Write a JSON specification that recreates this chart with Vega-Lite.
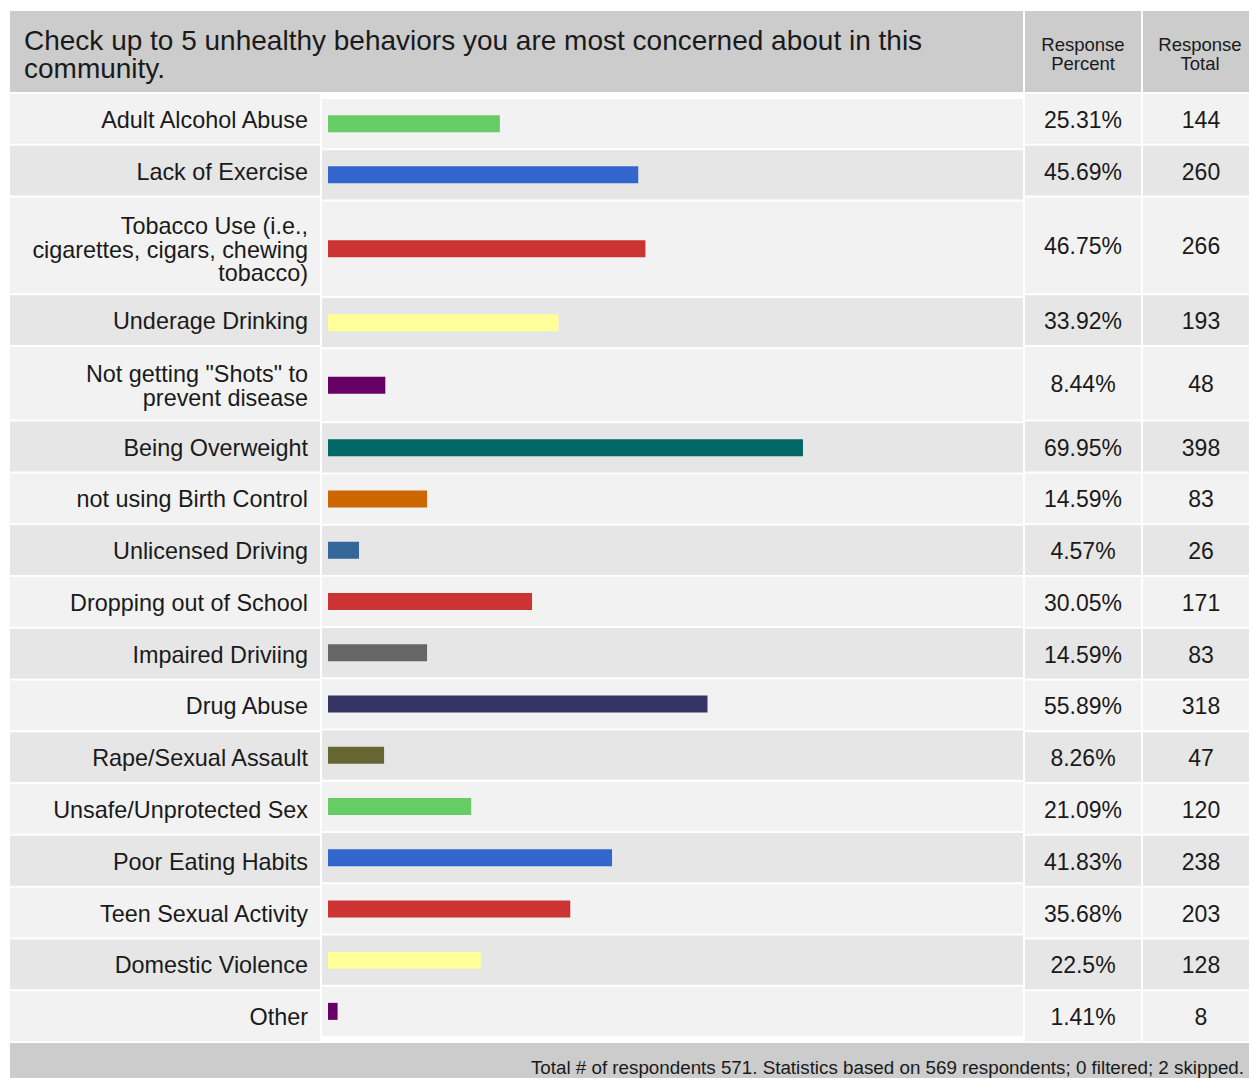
{
  "$schema": "https://vega.github.io/schema/vega-lite/v6.json",
  "padding": {"left": 10, "top": 11, "right": 0, "bottom": 0},
  "background": "white",
  "spacing": 2,
  "config": {"view": {"stroke": null}, "text": {"font": "Liberation Sans", "color": "#1a1a1a"}},
  "datasets": {
    "rows": [
      {"order": 1, "label": "Adult Alcohol Abuse", "pct": 25.31, "total": 144},
      {"order": 2, "label": "Lack of Exercise", "pct": 45.69, "total": 260},
      {"order": 3, "label": "Tobacco Use (i.e.,\ncigarettes, cigars, chewing\ntobacco)", "pct": 46.75, "total": 266},
      {"order": 4, "label": "Underage Drinking", "pct": 33.92, "total": 193},
      {"order": 5, "label": "Not getting \"Shots\" to\nprevent disease", "pct": 8.44, "total": 48},
      {"order": 6, "label": "Being Overweight", "pct": 69.95, "total": 398},
      {"order": 7, "label": "not using Birth Control", "pct": 14.59, "total": 83},
      {"order": 8, "label": "Unlicensed Driving", "pct": 4.57, "total": 26},
      {"order": 9, "label": "Dropping out of School", "pct": 30.05, "total": 171},
      {"order": 10, "label": "Impaired Driviing", "pct": 14.59, "total": 83},
      {"order": 11, "label": "Drug Abuse", "pct": 55.89, "total": 318},
      {"order": 12, "label": "Rape/Sexual Assault", "pct": 8.26, "total": 47},
      {"order": 13, "label": "Unsafe/Unprotected Sex", "pct": 21.09, "total": 120},
      {"order": 14, "label": "Poor Eating Habits", "pct": 41.83, "total": 238},
      {"order": 15, "label": "Teen Sexual Activity", "pct": 35.68, "total": 203},
      {"order": 16, "label": "Domestic Violence", "pct": 22.5, "total": 128},
      {"order": 17, "label": "Other", "pct": 1.41, "total": 8}
    ],
    "head": [
      {"title": "Check up to 5 unhealthy behaviors you are most concerned about in this\ncommunity.", "pctHead": "Response\nPercent", "totHead": "Response\nTotal", "foot": "Total # of respondents 571. Statistics based on 569 respondents; 0 filtered; 2 skipped."}
    ]
  },
  "vconcat": [
    {
      "spacing": 2,
      "hconcat": [
        {
          "width": 1013, "height": 81,
          "view": {"fill": "#cccccc", "stroke": null},
          "data": {"name": "head"},
          "mark": {"type": "text", "align": "left", "baseline": "middle", "fontSize": 28, "lineHeight": 28, "lineBreak": "\n"},
          "encoding": {"text": {"field": "title"}, "x": {"value": 14}, "y": {"value": 31}}
        },
        {
          "width": 116, "height": 81,
          "view": {"fill": "#cccccc", "stroke": null},
          "data": {"name": "head"},
          "mark": {"type": "text", "align": "center", "baseline": "middle", "fontSize": 18.5, "lineHeight": 19, "lineBreak": "\n"},
          "encoding": {"text": {"field": "pctHead"}, "x": {"value": 58}, "y": {"value": 34}}
        },
        {
          "width": 106, "height": 81,
          "view": {"fill": "#cccccc", "stroke": null},
          "data": {"name": "head"},
          "mark": {"type": "text", "align": "center", "baseline": "middle", "fontSize": 18.5, "lineHeight": 19, "lineBreak": "\n"},
          "encoding": {"text": {"field": "totHead"}, "x": {"value": 57}, "y": {"value": 34}}
        }
      ]
    },
    {
      "spacing": 2,
      "data": {"name": "rows"},
      "transform": [
        {"calculate": "length(split(datum.label, '\\n'))", "as": "lines"},
        {"calculate": "52 + 23 * (datum.lines - 1)", "as": "pitch"},
        {"window": [{"op": "sum", "field": "pitch", "as": "cum"}], "sort": [{"field": "order"}], "frame": [null, 0]},
        {"calculate": "datum.cum - datum.pitch", "as": "y0"},
        {"calculate": "datum.cum - 2", "as": "y1"},
        {"calculate": "(datum.y0 + datum.y1) / 2", "as": "ymid"},
        {"calculate": "datum.ymid - (datum.lines - 1) * 10", "as": "ylabel"},
        {"calculate": "format(datum.pct, '.2~f') + '%'", "as": "pctText"}
      ],
      "hconcat": [
        {
          "width": 310, "height": 947,
          "layer": [
            {
              "mark": {"type": "rect"},
              "encoding": {
                "x": {"value": 0}, "x2": {"value": "width"},
                "y": {"field": "y0", "type": "quantitative", "scale": {"domain": [0, 951], "reverse": true, "nice": false, "zero": false}, "axis": null},
                "y2": {"field": "y1"},
                "fill": {"condition": {"test": "datum.order % 2 === 1", "value": "#f2f2f2"}, "value": "#e6e6e6"}
              }
            },
            {
              "mark": {"type": "text", "align": "right", "baseline": "middle", "fontSize": 23.4, "lineHeight": 23.5, "lineBreak": "\n", "dy": 2},
              "encoding": {
                "x": {"value": 298},
                "y": {"field": "ylabel", "type": "quantitative", "scale": {"domain": [0, 951], "reverse": true, "nice": false, "zero": false}, "axis": null},
                "text": {"field": "label"}
              }
            }
          ]
        },
        {
          "width": 701, "height": 947,
          "layer": [
            {
              "mark": {"type": "rect"},
              "encoding": {
                "x": {"value": 0}, "x2": {"value": "width"},
                "y": {"field": "y0", "type": "quantitative", "scale": {"domain": [0, 951], "reverse": true, "nice": false, "zero": false}, "axis": null},
                "y2": {"field": "y1"},
                "fill": {"condition": {"test": "datum.order % 2 === 1", "value": "#f2f2f2"}, "value": "#e6e6e6"}
              }
            },
            {
              "mark": {"type": "bar", "orient": "horizontal", "height": 17},
              "encoding": {
                "x": {"field": "pct", "type": "quantitative", "scale": {"domain": [0, 100], "range": [6, 685]}, "axis": null},
                "y": {"field": "ymid", "type": "quantitative", "scale": {"domain": [0, 951], "reverse": true, "nice": false, "zero": false}, "axis": null},
                "color": {
                  "field": "order", "type": "ordinal", "legend": null,
                  "scale": {"range": ["#66cc66", "#3366cc", "#cc3333", "#ffff99", "#660066", "#006666", "#cc6600", "#336699", "#cc3333", "#666666", "#333366", "#666633", "#66cc66", "#3366cc", "#cc3333", "#ffff99", "#660066"]}
                }
              }
            }
          ]
        },
        {
          "width": 116, "height": 947,
          "layer": [
            {
              "mark": {"type": "rect"},
              "encoding": {
                "x": {"value": 0}, "x2": {"value": "width"},
                "y": {"field": "y0", "type": "quantitative", "scale": {"domain": [0, 951], "reverse": true, "nice": false, "zero": false}, "axis": null},
                "y2": {"field": "y1"},
                "fill": {"condition": {"test": "datum.order % 2 === 1", "value": "#f2f2f2"}, "value": "#e6e6e6"}
              }
            },
            {
              "mark": {"type": "text", "align": "center", "baseline": "middle", "fontSize": 23, "dy": 2},
              "encoding": {
                "x": {"value": 58},
                "y": {"field": "ymid", "type": "quantitative", "scale": {"domain": [0, 951], "reverse": true, "nice": false, "zero": false}, "axis": null},
                "text": {"field": "pctText"}
              }
            }
          ]
        },
        {
          "width": 106, "height": 947,
          "layer": [
            {
              "mark": {"type": "rect"},
              "encoding": {
                "x": {"value": 0}, "x2": {"value": "width"},
                "y": {"field": "y0", "type": "quantitative", "scale": {"domain": [0, 951], "reverse": true, "nice": false, "zero": false}, "axis": null},
                "y2": {"field": "y1"},
                "fill": {"condition": {"test": "datum.order % 2 === 1", "value": "#f2f2f2"}, "value": "#e6e6e6"}
              }
            },
            {
              "mark": {"type": "text", "align": "center", "baseline": "middle", "fontSize": 23, "dy": 2},
              "encoding": {
                "x": {"value": 58},
                "y": {"field": "ymid", "type": "quantitative", "scale": {"domain": [0, 951], "reverse": true, "nice": false, "zero": false}, "axis": null},
                "text": {"field": "total", "type": "quantitative"}
              }
            }
          ]
        }
      ]
    },
    {
      "width": 1239, "height": 35,
      "view": {"fill": "#cccccc", "stroke": null},
      "data": {"name": "head"},
      "mark": {"type": "text", "align": "right", "baseline": "middle", "fontSize": 18.8},
      "encoding": {"text": {"field": "foot"}, "x": {"value": 1234}, "y": {"value": 25}}
    }
  ]
}
